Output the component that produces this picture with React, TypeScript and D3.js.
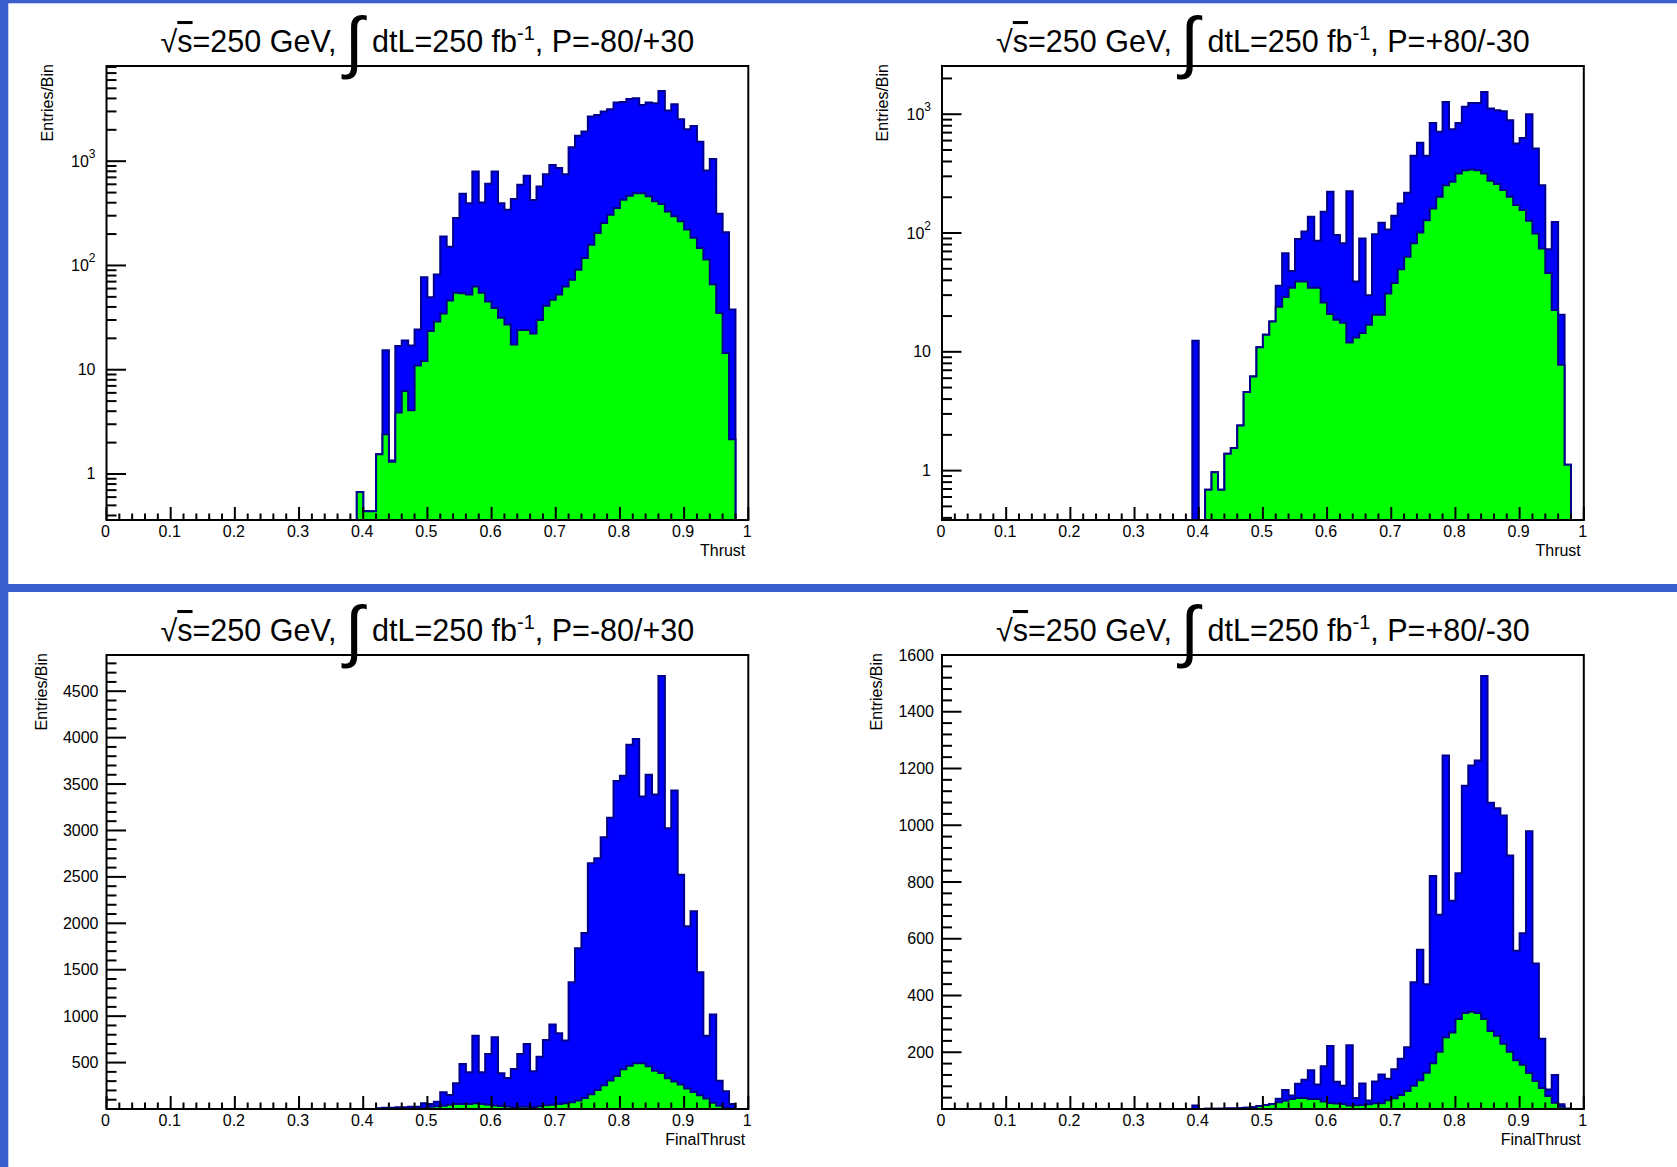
import React from 'react';
import * as d3 from 'd3';

// Histograms have 100 bins on [0,1]; the arrays below start at bin 0.39-0.40,
// every bin before that is empty.
const FIRST_BIN = 39;
const N_BINS = 100;

// Thrust, P=-80/+30 (log scale)
const thrustAllM = [
  0.67, 0.44, 0.44, 1.55, 15.4, 1.35, 16.9, 19.1, 17.1, 24.3,
  77, 49.6, 82, 190, 151, 285, 486, 396, 795, 402,
  608, 795, 396, 343, 433, 595, 725, 425, 573, 751,
  917, 859, 751, 1362, 1750, 1925, 2680, 2780, 2990, 3150,
  3650, 3700, 3955, 4010, 3465, 3650, 3600, 4720, 3060, 3520,
  2530, 2030, 2180, 1540, 815, 1047, 314, 208, 37.8, 0, 0,
];
const thrustSigM = [
  0.67, 0.44, 0.44, 1.55, 2.4, 1.31, 3.88, 6.25, 4.08, 11,
  12.1, 23.5, 29, 34.6, 46, 54.6, 54, 52.7, 63, 54.6,
  45, 39, 31.5, 27.2, 17.5, 24, 24, 22.3, 30, 41,
  47, 52.7, 63, 73, 91, 118, 158, 205, 256, 307,
  355, 427, 467, 494, 494, 460, 412, 388, 330, 296,
  265, 221, 184, 147, 114, 66, 35, 14.5, 2.15, 0, 0,
];

// Thrust, P=+80/-30 (log scale)
const thrustAllP = [
  12.4, 0, 0.69, 0.97, 0.69, 1.39, 1.55, 2.4, 4.58, 6.2,
  10.9, 13.9, 18, 36, 67.5, 48, 89, 103, 137, 86,
  151, 222, 96, 82, 225, 39, 90, 30, 97.5, 122,
  107, 140, 177, 218, 447, 574, 447, 845, 711, 1270,
  748, 845, 1153, 1245, 1245, 1541, 1116, 1081, 1060, 891,
  567, 632, 1000, 514, 253, 73, 124, 20.5, 1.12, 0, 0,
];
const thrustSigP = [
  0, 0, 0.69, 0.97, 0.69, 1.39, 1.55, 2.4, 4.58, 6.2,
  10.9, 13.9, 18, 24, 29, 34.7, 39, 39, 34.7, 34.7,
  26, 20.8, 18.6, 17.6, 12, 13.2, 14.4, 16.9, 20.5, 20.5,
  31, 38, 49.5, 63, 82, 101, 128, 161, 202, 253,
  270, 317, 338, 343, 338, 317, 275, 258, 230, 202,
  172, 156, 127, 99, 74, 46, 22.5, 7.8, 1.12, 0, 0,
];

// FinalThrust, P=-80/+30 (linear scale)
const finalAllM = [
  0, 0, 0, 7, 14, 14, 18, 18, 25, 25,
  61, 54, 79, 180, 150, 277, 485, 395, 790, 395,
  593, 773, 384, 334, 431, 593, 701, 406, 564, 744,
  909, 816, 737, 1365, 1732, 1897, 2648, 2702, 2928, 3137,
  3532, 3590, 3924, 3985, 3367, 3600, 3388, 4664, 3025, 3431,
  2522, 1969, 2131, 1473, 790, 1017, 305, 190, 54, 0, 0,
];
const finalSigM = [
  0, 0, 0, 2, 2, 1, 4, 6, 4, 11,
  12, 23, 29, 35, 46, 55, 54, 53, 62, 55,
  45, 39, 31, 27, 18, 24, 24, 22, 30, 41,
  47, 53, 63, 73, 91, 118, 158, 205, 256, 307,
  355, 427, 467, 494, 494, 460, 412, 388, 330, 296,
  265, 221, 184, 147, 114, 66, 35, 14, 2, 0, 0,
];

// FinalThrust, P=+80/-30 (linear scale)
const finalAllP = [
  12, 0, 0.7, 1, 0.7, 1.4, 1.6, 2.4, 4.6, 6.2,
  10.9, 14, 18, 36, 67, 48, 89, 103, 137, 86,
  151, 222, 96, 82, 225, 39, 90, 30, 97, 122,
  107, 140, 177, 218, 447, 561, 440, 821, 685, 1246,
  734, 831, 1139, 1211, 1228, 1526, 1079, 1060, 1034, 893,
  558, 619, 979, 513, 248, 69, 120, 16.5, 1, 0, 0,
];
const finalSigP = [
  0, 0, 0.7, 1, 0.7, 1.4, 1.6, 2.4, 4.6, 6.2,
  10.9, 14, 18, 24, 29, 35, 39, 39, 35, 35,
  26, 21, 19, 18, 12, 13, 14, 17, 20, 20,
  31, 38, 49, 63, 82, 101, 128, 161, 202, 253,
  270, 317, 338, 343, 338, 317, 275, 258, 230, 202,
  172, 156, 127, 99, 74, 46, 22, 8, 1, 0, 0,
];

const xTickLabels = ['0', '0.1', '0.2', '0.3', '0.4', '0.5', '0.6', '0.7', '0.8', '0.9', '1'];
const polarisations = ['-80/+30', '+80/-30'];
const xTitles = ['Thrust', 'FinalThrust'];

const W = 1677;
const H = 1167;
const FONT = '"Liberation Sans", Arial, Helvetica, sans-serif';
const EDGE = '#00008b';
const BORDER = '#3a5fcd';

type PanelProps = {
  left: number;
  top: number;
  width: number;
  height: number;
  total: number[];
  signal: number[];
  log: boolean;
  yDomain: [number, number];
  yMajorStep?: number;
  yMinorStep?: number;
  pol: string;
  xTitle: string;
};

function binValue(arr: number[], i: number) {
  if (i < FIRST_BIN) return 0;
  const v = arr[i - FIRST_BIN];
  return v === undefined ? 0 : v;
}

function Panel(p: PanelProps) {
  const { left, top, width, height, log, yDomain } = p;
  const bottom = top + height;
  const right = left + width;

  const x = d3.scaleLinear().domain([0, 1]).range([left, right]);
  const y: any = log
    ? d3.scaleLog().domain(yDomain).range([bottom, top])
    : d3.scaleLinear().domain(yDomain).range([bottom, top]);

  const yv = (v: number) => {
    if (v <= yDomain[0] || v <= 0) return bottom;
    return Math.max(top, y(v));
  };

  const stepPath = (arr: number[]) => {
    const pts: [number, number][] = [[x(0), bottom]];
    for (let i = 0; i < N_BINS; i++) {
      const v = binValue(arr, i);
      pts.push([x(i / N_BINS), yv(v)]);
      pts.push([x((i + 1) / N_BINS), yv(v)]);
    }
    pts.push([x(1), bottom]);
    return d3.line()(pts) as string;
  };

  // x ticks: major every 0.1, minor every 0.02
  const xTicks = d3.range(0, 51).map((k) => ({ v: k / 50, major: k % 5 === 0 }));

  // y ticks
  let yTicks: { v: number; major: boolean }[] = [];
  if (log) {
    const k0 = Math.floor(Math.log10(yDomain[0]));
    const k1 = Math.ceil(Math.log10(yDomain[1]));
    for (let k = k0; k <= k1; k++) {
      for (let m = 1; m <= 9; m++) {
        const v = m * Math.pow(10, k);
        if (v >= yDomain[0] && v <= yDomain[1]) yTicks.push({ v, major: m === 1 });
      }
    }
  } else {
    const minor = p.yMinorStep as number;
    const major = p.yMajorStep as number;
    for (let v = minor; v <= yDomain[1] + 1e-6; v += minor) {
      const r = Math.round(v);
      yTicks.push({ v: r, major: r % major === 0 });
    }
  }

  const yLabel = (v: number) => {
    if (!log) return <>{String(v)}</>;
    const k = Math.round(Math.log10(v));
    if (k === 0) return <>1</>;
    if (k === 1) return <>10</>;
    return (
      <>
        10
        <tspan fontSize={12} dy={-9}>{k}</tspan>
      </>
    );
  };

  const cx = (left + right) / 2;
  const yTitleX = left + (log ? -59.5 : -65.5) + 5.7;

  return (
    <g>
      <path d={stepPath(p.total)} fill="#0000ff" stroke={EDGE} strokeWidth={2} />
      <path d={stepPath(p.signal)} fill="#00ff00" stroke={EDGE} strokeWidth={2} />
      <rect x={left} y={top} width={width} height={height} fill="none" stroke="#000" strokeWidth={2} />

      {xTicks.map((t, i) => (
        <line key={'xt' + i} x1={x(t.v)} x2={x(t.v)} y1={bottom} y2={bottom - (t.major ? 13 : 6.5)}
          stroke="#000" strokeWidth={2} />
      ))}
      {xTickLabels.map((s, i) => (
        <text key={'xl' + i} x={x(i / 10) - 1} y={bottom + 17} textAnchor="middle"
          fontSize={16} fontFamily={FONT}>{s}</text>
      ))}
      <text x={right - 3} y={bottom + 36} textAnchor="end" fontSize={16} fontFamily={FONT}>{p.xTitle}</text>

      {yTicks.map((t, i) => (
        <line key={'yt' + i} x1={left} x2={left + (t.major ? 19.5 : 10)} y1={y(t.v)} y2={y(t.v)}
          stroke="#000" strokeWidth={2} />
      ))}
      {yTicks.filter((t) => t.major).map((t, i) => (
        <text key={'yl' + i} x={left - (log ? 11 : 8)} y={y(t.v) + 5.5} textAnchor="end"
          fontSize={16} fontFamily={FONT}>{yLabel(t.v)}</text>
      ))}
      <text transform={`translate(${yTitleX},${top - 2}) rotate(-90)`} textAnchor="end"
        fontSize={16} fontFamily={FONT}>Entries/Bin</text>

      <text x={cx} y={top - 14} textAnchor="middle" fontSize={30.5} fontFamily={FONT}>
        <tspan>√</tspan>
        <tspan style={{ textDecoration: 'overline' }}>s</tspan>
        <tspan>=250 GeV, </tspan>
        <tspan fontSize={68} dy={13}>∫</tspan>
        <tspan dy={-13}> dtL=250 fb</tspan>
        <tspan fontSize={20} dy={-12}>-1</tspan>
        <tspan dy={12}>, P={p.pol}</tspan>
      </text>
    </g>
  );
}

export default function App() {
  const colLeft = [106.5, 942];
  const rowTop = [66, 655];
  const pw = 641.8;
  const ph = 454;
  return (
    <svg width={W} height={H} style={{ position: 'absolute', left: 0, top: 0, background: '#fff' }}>
      <rect x={0} y={0} width={W} height={H} fill="#fff" />
      <rect x={0} y={0} width={W} height={3.3} fill={BORDER} />
      <rect x={0} y={0} width={8.3} height={H} fill={BORDER} />
      <rect x={0} y={584} width={W} height={8} fill={BORDER} />

      <Panel left={colLeft[0]} top={rowTop[0]} width={pw} height={ph} total={thrustAllM} signal={thrustSigM}
        log yDomain={[0.362, 8185]} pol={polarisations[0]} xTitle={xTitles[0]} />
      <Panel left={colLeft[1]} top={rowTop[0]} width={pw} height={ph} total={thrustAllP} signal={thrustSigP}
        log yDomain={[0.384, 2546]} pol={polarisations[1]} xTitle={xTitles[0]} />
      <Panel left={colLeft[0]} top={rowTop[1]} width={pw} height={ph} total={finalAllM} signal={finalSigM}
        log={false} yDomain={[0, 4890]} yMajorStep={500} yMinorStep={100} pol={polarisations[0]} xTitle={xTitles[1]} />
      <Panel left={colLeft[1]} top={rowTop[1]} width={pw} height={ph} total={finalAllP} signal={finalSigP}
        log={false} yDomain={[0, 1600]} yMajorStep={200} yMinorStep={40} pol={polarisations[1]} xTitle={xTitles[1]} />
    </svg>
  );
}
